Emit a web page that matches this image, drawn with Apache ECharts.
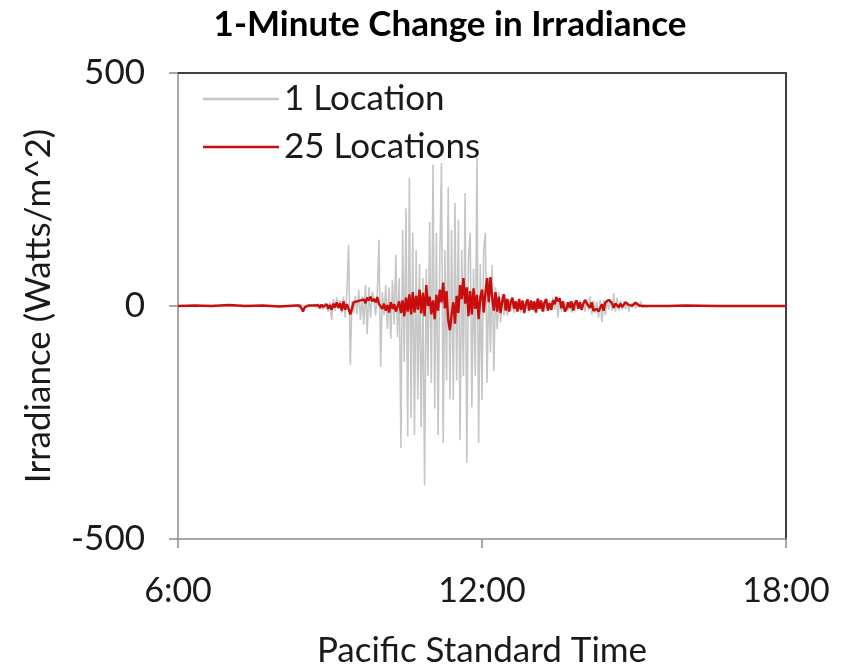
<!DOCTYPE html>
<html>
<head>
<meta charset="utf-8">
<title>1-Minute Change in Irradiance</title>
<script src="https://cdn.jsdelivr.net/npm/echarts@6/dist/echarts.min.js"></script>
<style>
  html, body { margin: 0; padding: 0; background: #fff; }
  #chart { width: 852px; height: 670px; }
</style>
</head>
<body>
<div id="chart"></div>
<script>
// Time is in minutes after midnight (Pacific Standard Time).
const xTicks = [360, 720, 1080];
const yTicks = [-500, 0, 500];

// Quiet early morning samples
const earlyTimes = [360, 380, 400, 420, 440, 460, 480, 490];
const earlyOne   = [0, 0, 1, 0, 0, 1, 0, 0];
const earlyMany  = [0, 1, 0, 2, 0, 1, -1, 0];

// Variable midday period, one sample every 2 minutes from 8:20
const activeStart = 500;
const activeStep = 2;
const activeOne = [
  0, 1, -3, 2, -1, 0, 2, -2, 1, 0,
  -2, 3, -4, 5, -6, 4, -8, 6, 10, -12,
  8, -30, 15, -10, 18, -6, 12, -15, 20, -25,
  30, 131, -127, 10, -15, 22, -18, 35, -30, 20,
  -40, 45, -60, 40, -25, 30, 15, -20, 25, 142,
  -131, 30, -20, 45, -50, 40, -70, 55, -40, 110,
  -67, 60, -305, 163, -120, 210, -280, 275, -240, 157,
  -277, 120, -200, 90, -260, 60, -385, 80, -150, 180,
  -165, 303, -220, 157, -277, 100, 307, -294, 120, -160,
  255, -200, 163, -202, 221, -160, 185, -288, 120, -150,
  242, -337, 100, 157, -217, 80, -150, 318, -294, 90,
  -202, 120, 157, -165, 60, -100, 88, -140, 40, -50,
  30, -35, 25, -20, 18, -22, 15, -12, 10, -15,
  12, -10, 8, -14, 10, -8, 12, -10, 6, -8,
  10, -12, 8, -6, 14, -10, 6, -12, 8, -5,
  12, -10, 18, -8, 22, -25, 20, -12, 10, -8,
  8, -10, 12, -14, 6, -8, 10, -6, 12, -10,
  8, -12, 15, -10, 20, -18, 12, -15, 10, -25,
  14, -35, 12, -20, 10, -8, 15, -10, 28, -12,
  18, -10, 12, -8, 10, -6, 8, -12, 6, -4,
  8, -5, 6, -3, 10, -4, 3, -2, 1, 0,
  0
];
const activeMany = [
  1, 0, 1, -4, -12, -3, 0, 1, 0, 1,
  0, 1, -2, 2, -4, 3, -2, 0, 4, -6,
  2, -8, 5, -3, 8, -4, 6, -10, 10, -8,
  4, -6, -18, -5, 8, 4, 10, 6, 12, 8,
  14, 6, 18, 12, 20, 10, 15, 8, 19, 4,
  0, -6, 5, -10, 2, -14, 8, -6, 4, -12,
  -8, 10, -15, 12, -22, 18, -12, 25, -18, 30,
  -14, 22, -8, 35, -16, 28, -22, 45, 0, 20,
  -18, 12, -28, 24, -10, 35, 8, 50, -5, 32,
  -30, -52, -18, 8, -38, 22, -15, 45, 15, 60,
  5, 40, -22, 32, -18, 38, -6, 24, -28, 18,
  35, -14, 28, 60, 8, 62, 18, -10, 30, -12,
  20, -15, 10, 25, -10, 15, -12, 8, 18, -6,
  10, -12, 15, -8, 12, -15, 5, 14, -10, 12,
  -8, 10, -14, 16, -6, 12, -12, 8, 15, -10,
  6, -8, 12, 4, 19, 10, 16, -5, 10, -12,
  -6, 8, -4, 10, -10, 6, 12, -6, 8, -8,
  5, 13, 6, 10, -4, 8, -10, -13, -6, -12,
  -8, 4, -10, 8, 6, 13, 10, 6, -4, 5,
  4, -3, 5, -2, 3, 8, 6, 2, 4, 1,
  2, 7, 3, 1, 2, 0, 1, 0, 0, 0,
  0
];

// Quiet late afternoon samples
const lateTimes = [940, 960, 1000, 1040, 1080];
const lateOne   = [0, 0, 0, 0, 0];
const lateMany  = [0, 1, 0, 0, 0];

const activeTimes = activeOne.map((_, i) => activeStart + i * activeStep);
const times = earlyTimes.concat(activeTimes, lateTimes);
const oneLocation = earlyOne.concat(activeOne, lateOne);
const manyLocations = earlyMany.concat(activeMany, lateMany);

const pair = (vals) => times.map((t, i) => [t, vals[i]]);

const FONT = 'Lato';
const TEXT = '#1a1a1a';
const GREY = '#c6c6c6';
const RED = '#c90c0c';
const chart = echarts.init(document.getElementById('chart'), null, { renderer: 'canvas' });

chart.setOption({
  animation: false,
  backgroundColor: '#ffffff',
  textStyle: { fontFamily: FONT },
  title: {
    text: '1-Minute Change in Irradiance',
    left: 445,
    top: 2,
    textAlign: 'center',
    textStyle: { fontFamily: FONT, fontSize: 35, fontWeight: 'bold', color: '#000' }
  },
  legend: {
    orient: 'vertical',
    left: 198,
    top: 75,
    icon: 'rect',
    itemWidth: 76,
    itemHeight: 2.5,
    itemGap: 10,
    data: [
      { name: '1 Location', itemStyle: { color: GREY } },
      { name: '25 Locations', itemStyle: { color: RED } }
    ],
    textStyle: { fontFamily: FONT, fontSize: 35, color: TEXT, lineHeight: 38 }
  },
  grid: {
    left: 178, right: 66, top: 73, bottom: 131,
    containLabel: false,
    outerBoundsMode: 'none'
  },
  xAxis: [
    {
      type: 'value',
      position: 'bottom',
      min: xTicks[0],
      max: xTicks[xTicks.length - 1],
      interval: xTicks[1] - xTicks[0],
      name: 'Pacific Standard Time',
      nameLocation: 'middle',
      nameGap: 94,
      nameTextStyle: { fontFamily: FONT, fontSize: 35, color: TEXT },
      axisLine: { onZero: false, lineStyle: { color: '#8c8c8c', width: 1.5 } },
      axisTick: { show: true, length: 9, lineStyle: { color: '#8c8c8c', width: 1.5 } },
      axisLabel: {
        margin: 35,
        fontFamily: FONT, fontSize: 34, color: TEXT,
        formatter: (v) => (v / 60) + ':00'
      },
      splitLine: { show: false }
    },
    {
      type: 'value',
      position: 'top',
      min: xTicks[0],
      max: xTicks[xTicks.length - 1],
      axisLine: { show: true, onZero: false, lineStyle: { color: '#404040', width: 2 } },
      axisTick: { show: false },
      axisLabel: { show: false },
      splitLine: { show: false }
    }
  ],
  yAxis: [
    {
      type: 'value',
      min: yTicks[0],
      max: yTicks[yTicks.length - 1],
      interval: yTicks[1] - yTicks[0],
      name: 'Irradiance (Watts/m^2)',
      nameLocation: 'middle',
      nameGap: 122,
      nameRotate: 90,
      nameTextStyle: { fontFamily: FONT, fontSize: 35, color: TEXT },
      axisLine: { show: true, onZero: false, lineStyle: { color: '#8c8c8c', width: 1.5 } },
      axisTick: { show: true, length: 9, lineStyle: { color: '#8c8c8c', width: 1.5 } },
      axisLabel: { margin: 33, fontFamily: FONT, fontSize: 35, color: TEXT },
      splitLine: { show: false }
    },
    {
      type: 'value',
      position: 'right',
      min: yTicks[0],
      max: yTicks[yTicks.length - 1],
      axisLine: { show: true, onZero: false, lineStyle: { color: '#404040', width: 2 } },
      axisTick: { show: false },
      axisLabel: { show: false },
      splitLine: { show: false }
    }
  ],
  series: [
    {
      name: '1 Location',
      type: 'line',
      data: pair(oneLocation),
      symbol: 'none',
      lineStyle: { color: GREY, width: 1.6 },
      itemStyle: { color: GREY },
      z: 2
    },
    {
      name: '25 Locations',
      type: 'line',
      data: pair(manyLocations),
      symbol: 'none',
      lineStyle: { color: RED, width: 2.4 },
      itemStyle: { color: RED },
      z: 3
    }
  ]
});
</script>
</body>
</html>
